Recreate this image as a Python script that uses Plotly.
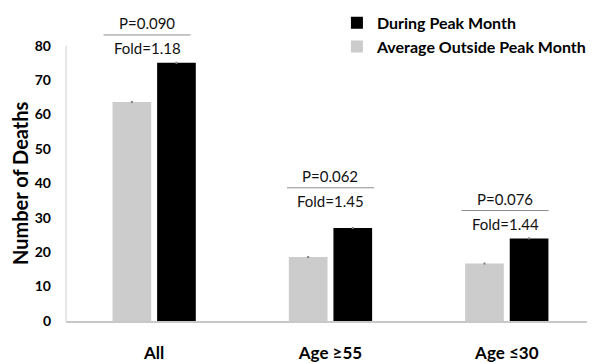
import plotly.graph_objects as go

# Death counts per group
categories = ["All", "Age ≥55", "Age ≤30"]
outside_peak = [63.6, 18.6, 16.7]   # average outside peak month
during_peak = [75.0, 27.0, 24.0]    # during peak month
p_labels = ["P=0.090", "P=0.062", "P=0.076"]
fold_labels = ["Fold=1.18", "Fold=1.45", "Fold=1.44"]
bracket_y = [83.1, 38.7, 32.1]
bracket_x = [-0.04, 0.0, -0.01]
y_ticks = [0, 10, 20, 30, 40, 50, 60, 70, 80]

FONT = "Lato"
err_style = dict(type="constant", value=0.15, thickness=1, width=1, color="#7f7f7f")

fig = go.Figure()
fig.add_trace(go.Bar(
    x=categories, y=outside_peak, name="Average Outside Peak Month",
    marker=dict(color="#cccccc", line=dict(width=0)), error_y=err_style,
))
fig.add_trace(go.Bar(
    x=categories, y=during_peak, name="During Peak Month",
    marker=dict(color="#000000", line=dict(width=0)), error_y=err_style,
))

# significance brackets: a rule with P above and fold change below
shapes = []
annotations = []
for i, (bx, by) in enumerate(zip(bracket_x, bracket_y)):
    cx = i + bx
    shapes.append(dict(type="line", xref="x", yref="y", x0=cx - 0.247, x1=cx + 0.247,
                       y0=by, y1=by, line=dict(color="#8c8c8c", width=1)))
    annotations.append(dict(x=cx, y=by, xref="x", yref="y", text=p_labels[i],
                            showarrow=False, yanchor="bottom", yshift=1,
                            font=dict(family=FONT, size=15, color="#111111")))
    annotations.append(dict(x=cx, y=by, xref="x", yref="y", text=fold_labels[i],
                            showarrow=False, yanchor="top", yshift=-2,
                            font=dict(family=FONT, size=15, color="#111111")))

# y axis line only spans the tick range
shapes.append(dict(type="line", xref="paper", yref="y", x0=0, x1=0, y0=0, y1=80,
                   line=dict(color="#d0d0d0", width=1)))

annotations.append(dict(x=-0.087, y=40, xref="paper", yref="y", text="<b>Number of Deaths</b>",
                        textangle=-90, showarrow=False, xanchor="center", yanchor="middle",
                        font=dict(family=FONT, size=20, color="#000000")))

fig.update_layout(
    width=592, height=363,
    margin=dict(l=66, r=0, t=25, b=37),
    paper_bgcolor="white", plot_bgcolor="white",
    barmode="group", bargap=0.494, bargroupgap=0.133,
    font=dict(family=FONT, color="#000000"),
    shapes=shapes, annotations=annotations,
    legend=dict(x=0.52, y=1.065, xanchor="left", yanchor="top",
                traceorder="reversed", bgcolor="rgba(0,0,0,0)",
                font=dict(family=FONT, size=16, color="#000000", weight="bold"),
                itemwidth=30, tracegroupgap=0),
    xaxis=dict(range=[-0.5, 2.455], showline=True, linecolor="#c8c8c8", linewidth=1.5,
               showgrid=False, ticks="", ticklabelstandoff=16,
               tickfont=dict(family=FONT, size=17, color="#000000", weight="bold")),
    yaxis=dict(range=[0, 86], tickvals=y_ticks, showline=False, showgrid=False,
               zeroline=False, ticks="", ticklabelstandoff=14,
               tickfont=dict(family=FONT, size=14, color="#000000", weight="bold")),
)

fig.write_html("out.html")
